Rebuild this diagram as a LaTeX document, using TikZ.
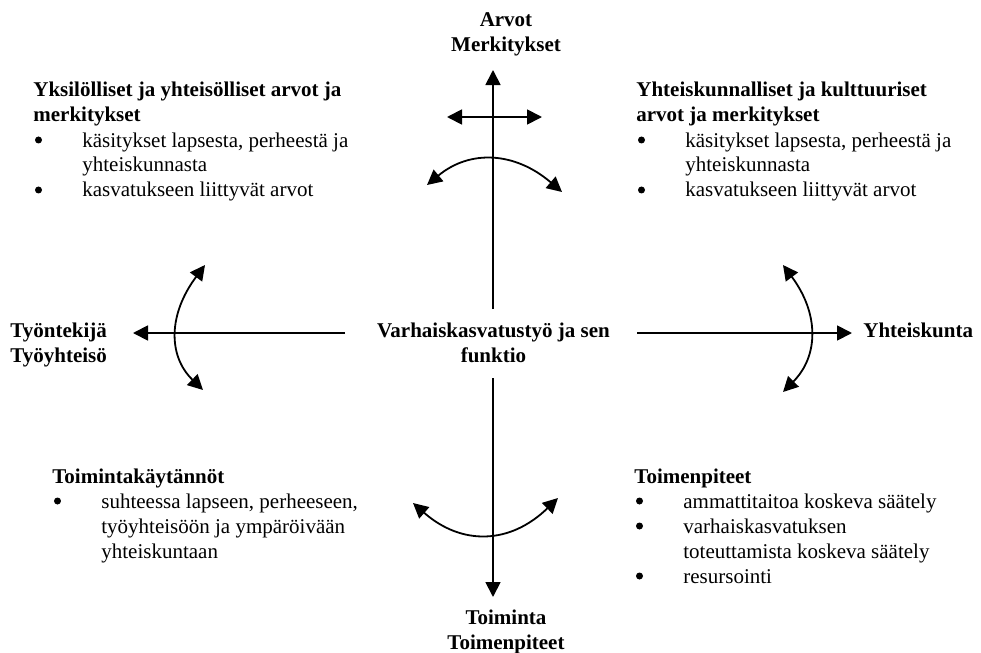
\documentclass[tikz,border=0pt]{standalone}
\usepackage{fontspec}
\setmainfont{Liberation Serif}
\usetikzlibrary{arrows.meta}

% round list bullet
\newcommand\dotmark{\tikz[x=1pt,y=1pt,baseline=-1.75pt]\fill (1.75,1.75) circle (1.75);}
% bullet line with hanging indent
\newcommand\bitem{\par\hangindent=24.5pt\hangafter=1\noindent\makebox[24.5pt][l]{\hspace{0.8pt}\dotmark}}

\begin{document}
\begin{tikzpicture}[x=0.5pt,y=-0.5pt,
  axis/.style={line width=0.9pt,-{Triangle[length=7.5pt,width=7.5pt]}},
  twoway/.style={line width=0.9pt,{Triangle[length=7.5pt,width=7.5pt]}-{Triangle[length=7.5pt,width=7.5pt]}},
  lbl/.style={font=\fontsize{10.5pt}{12.5pt}\selectfont\bfseries,align=center,inner sep=0pt},
  blk/.style={font=\fontsize{10.5pt}{12.5pt}\selectfont,inner sep=0pt,anchor=base west}
]
\fill[white] (0,0) rectangle (981,653);
\useasboundingbox (0,0) rectangle (981,653);

% central node and the four axis labels (anchored at the last baseline)
\node[lbl,anchor=base] (work) at (493.5,362) {Varhaiskasvatustyö ja sen\\funktio};
\node[lbl,anchor=base] (values) at (506,51) {Arvot\\Merkitykset};
\node[lbl,anchor=base] (action) at (506,649) {Toiminta\\Toimenpiteet};
\node[lbl,anchor=base west,align=left] (staff) at (10,362) {Työntekijä\\Työyhteisö};
\node[lbl,anchor=base west] (society) at (863,337) {Yhteiskunta};

% axis ends
\coordinate (wT) at (493,309);
\coordinate (wB) at (493,378);
\coordinate (wL) at (345,333);
\coordinate (wR) at (637,333);
\coordinate (tT) at (493,70);
\coordinate (tB) at (493,597);
\coordinate (tL) at (133,333);
\coordinate (tR) at (852,333);

\draw[axis] (wT) -- (tT);
\draw[axis] (wB) -- (tB);
\draw[axis] (wL) -- (tL);
\draw[axis] (wR) -- (tR);

% short horizontal double arrow on the upper axis
\coordinate (hL) at (447,117);
\coordinate (hR) at (542,117);
\draw[twoway] (hL) -- (hR);

% curved double arrows across the axes
\coordinate (aT1) at (427,185);
\coordinate (aT2) at (562,192);
\draw[twoway] (aT1) .. controls (470,149.3) and (515,151.7) .. (aT2);

\coordinate (aB1) at (413,503);
\coordinate (aB2) at (558,498);
\draw[twoway] (aB1) .. controls (462,546) and (510.3,544.3) .. (aB2);

\coordinate (aL1) at (205,265);
\coordinate (aL2) at (203,390);
\draw[twoway] (aL1) .. controls (168.3,314) and (167.7,355.7) .. (aL2);

\coordinate (aR1) at (783,265);
\coordinate (aR2) at (783,392);
\draw[twoway] (aR1) .. controls (819,313.3) and (819,355.7) .. (aR2);

% quadrant text blocks
\node[blk] (ql) at (33,97) {\parbox[t]{170pt}{%
  \textbf{Yksilölliset ja yhteisölliset arvot ja\newline merkitykset}
  \bitem käsitykset lapsesta, perheestä ja\newline yhteiskunnasta
  \bitem kasvatukseen liittyvät arvot}};

\node[blk] (qr) at (636,97) {\parbox[t]{170pt}{%
  \textbf{Yhteiskunnalliset ja kulttuuriset\newline arvot ja merkitykset}
  \bitem käsitykset lapsesta, perheestä ja\newline yhteiskunnasta
  \bitem kasvatukseen liittyvät arvot}};

\node[blk] (bl) at (52,483) {\parbox[t]{170pt}{%
  \textbf{Toimintakäytännöt}
  \bitem suhteessa lapseen, perheeseen,\newline työyhteisöön ja ympäröivään\newline yhteiskuntaan}};

\node[blk] (br) at (634,483) {\parbox[t]{170pt}{%
  \textbf{Toimenpiteet}
  \bitem ammattitaitoa koskeva säätely
  \bitem varhaiskasvatuksen\newline toteuttamista koskeva säätely
  \bitem resursointi}};
\end{tikzpicture}
\end{document}
